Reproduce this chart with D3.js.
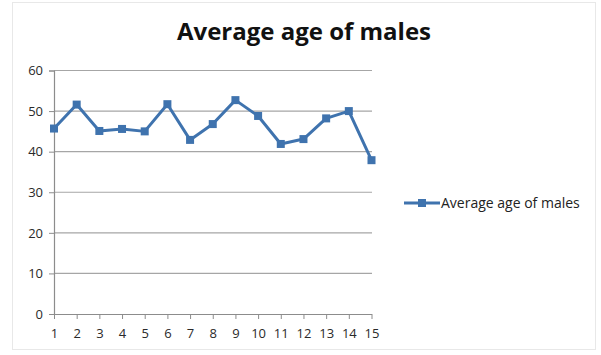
<!DOCTYPE html>
<html>
<head lang="en">
    <meta charset="UTF-8">
    <title>Average age of males</title>
    <script src="https://cdn.jsdelivr.net/npm/d3@7/dist/d3.min.js"></script>
    <style>
        body { margin: 0; background: #fff; }
        text { font-family: "Open Sans", "Liberation Sans", sans-serif; }
    </style>
</head>
<body>
<div id="chart"></div>
<script>
    var categories = [1, 2, 3, 4, 5, 6, 7, 8, 9, 10, 11, 12, 13, 14, 15];
    var ages = [45.7, 51.6, 45.1, 45.6, 45.0, 51.7, 42.9, 46.8, 52.7, 48.8, 41.9, 43.1, 48.2, 50.0, 37.9];
    var yTicks = [0, 10, 20, 30, 40, 50, 60];
    var seriesName = "Average age of males";
    var lineColor = "#3f73ae";

    var svg = d3.select("#chart").append("svg")
            .attr("width", 601)
            .attr("height", 355);

    // faint outer frame of the chart
    svg.append("rect")
        .attr("x", 12.5).attr("y", 2.5)
        .attr("width", 583).attr("height", 347)
        .attr("fill", "none")
        .attr("stroke", "#e8e8e8");

    svg.append("text")
        .attr("x", 304).attr("y", 40)
        .attr("text-anchor", "middle")
        .attr("font-size", 24)
        .attr("font-weight", "bold")
        .attr("fill", "#111")
        .text(seriesName);

    var x = d3.scalePoint().domain(categories).range([54, 371.5]);
    var y = d3.scaleLinear().domain([0, 60]).range([314, 70.5]);

    // grid
    svg.append("g").selectAll("line")
        .data(yTicks.filter(function(d){ return d > 0; }))
        .enter().append("line")
        .attr("x1", 54).attr("x2", 372)
        .attr("y1", function(d){ return y(d); })
        .attr("y2", function(d){ return y(d); })
        .attr("stroke", "#a6a6a6")
        .attr("stroke-width", 1.2);

    var yAxis = svg.append("g")
            .attr("transform", "translate(54,0)")
            .call(d3.axisLeft(y).tickValues(yTicks).tickSize(5).tickPadding(6));
    var xAxis = svg.append("g")
            .attr("transform", "translate(0,314)")
            .call(d3.axisBottom(x).tickSize(5).tickPadding(10).tickSizeOuter(0));

    [yAxis, xAxis].forEach(function(ax){
        ax.select(".domain").attr("stroke", "#8c8c8c").attr("stroke-width", 1.2);
        ax.selectAll(".tick line").attr("stroke", "#8c8c8c");
        ax.selectAll("text").attr("font-size", 13).attr("fill", "#2a2a2a");
    });
    xAxis.select(".domain").attr("d", "M54,0.5H372");

    var line = d3.line()
            .x(function(d, i){ return x(categories[i]); })
            .y(function(d){ return y(d); });

    svg.append("path")
        .datum(ages)
        .attr("d", line)
        .attr("fill", "none")
        .attr("stroke", lineColor)
        .attr("stroke-width", 3)
        .attr("stroke-linejoin", "round");

    svg.append("g").selectAll("rect")
        .data(ages)
        .enter().append("rect")
        .attr("x", function(d, i){ return x(categories[i]) - 4; })
        .attr("y", function(d){ return y(d) - 4; })
        .attr("width", 8).attr("height", 8)
        .attr("fill", lineColor);

    // legend
    var legend = svg.append("g").attr("transform", "translate(404,203)");
    legend.append("line")
        .attr("x1", 0).attr("x2", 36)
        .attr("stroke", lineColor).attr("stroke-width", 3);
    legend.append("rect")
        .attr("x", 14).attr("y", -4).attr("width", 8).attr("height", 8)
        .attr("fill", lineColor);
    legend.append("text")
        .attr("x", 37).attr("y", 4.5)
        .attr("font-size", 14)
        .attr("fill", "#222")
        .text(seriesName);
</script>
</body>
</html>
